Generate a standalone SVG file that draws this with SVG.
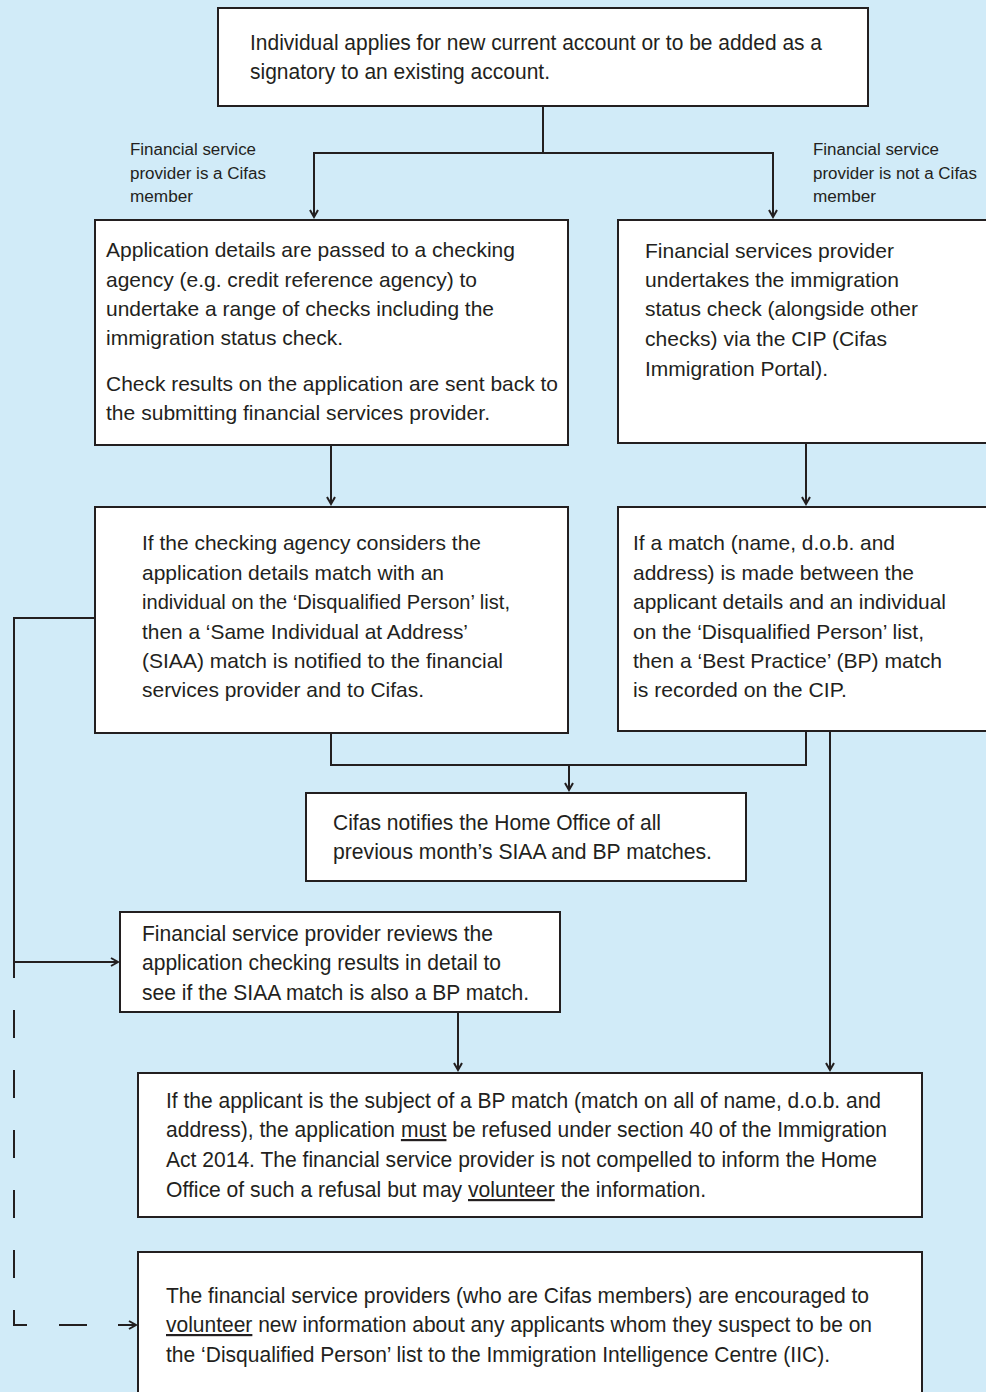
<svg xmlns="http://www.w3.org/2000/svg" width="986" height="1392" viewBox="0 0 986 1392">
<defs>
<style>
.bg{fill:#d1ebf8}
.box{fill:#ffffff;stroke:#231f20;stroke-width:2}
.ln{fill:none;stroke:#231f20;stroke-width:2}
.dash{fill:none;stroke:#231f20;stroke-width:2;stroke-dasharray:28 32;stroke-dashoffset:12}
.t{font-family:"Liberation Sans",Arial,sans-serif;font-size:21px;fill:#231f20}
.n{font-family:"Liberation Sans",Arial,sans-serif;font-size:22px;fill:#231f20}
.s{font-family:"Liberation Sans",Arial,sans-serif;font-size:16px;fill:#231f20}
.u{text-decoration:underline}
</style>
<marker id="ah" markerUnits="userSpaceOnUse" markerWidth="12" markerHeight="12" viewBox="-9 -6 10 12" refX="0" refY="0" orient="auto">
<path d="M-7,-4 L0,0 L-7,4" fill="none" stroke="#231f20" stroke-width="2"/>
</marker>
</defs>
<rect class="bg" x="0" y="0" width="986" height="1392"/>

<g id="connectors">
<path class="ln" d="M543,106 V153"/>
<path class="ln" d="M543,153 H314 V217" marker-end="url(#ah)"/>
<path class="ln" d="M543,153 H773 V217" marker-end="url(#ah)"/>
<path class="ln" d="M331,445 V504" marker-end="url(#ah)"/>
<path class="ln" d="M806,443 V504" marker-end="url(#ah)"/>
<path class="ln" d="M331,733 V765 H806 V731"/>
<path class="ln" d="M569,765 V790" marker-end="url(#ah)"/>
<path class="ln" d="M830,731 V1070" marker-end="url(#ah)"/>
<path class="ln" d="M95,618 H14 V962 H118" marker-end="url(#ah)"/>
<path class="ln" d="M458,1012 V1070" marker-end="url(#ah)"/>
<path class="dash" d="M14,962 V1325 H120"/>
<path class="ln" d="M118,1325 H136" marker-end="url(#ah)"/>
</g>

<g id="label-member">
<text class="s" x="130" y="155" textLength="126" lengthAdjust="spacingAndGlyphs">Financial service</text>
<text class="s" x="130" y="179" textLength="136" lengthAdjust="spacingAndGlyphs">provider is a Cifas</text>
<text class="s" x="130" y="202" textLength="63" lengthAdjust="spacingAndGlyphs">member</text>
</g>
<g id="label-not-member">
<text class="s" x="813" y="155" textLength="126" lengthAdjust="spacingAndGlyphs">Financial service</text>
<text class="s" x="813" y="179" textLength="164" lengthAdjust="spacingAndGlyphs">provider is not a Cifas</text>
<text class="s" x="813" y="202" textLength="63" lengthAdjust="spacingAndGlyphs">member</text>
</g>

<g id="node-apply">
<rect class="box" x="218" y="8" width="650" height="98"/>
<text class="n" x="250" y="50" textLength="572" lengthAdjust="spacingAndGlyphs">Individual applies for new current account or to be added as a</text>
<text class="n" x="250" y="79" textLength="300" lengthAdjust="spacingAndGlyphs">signatory to an existing account.</text>
</g>

<g id="node-agency">
<rect class="box" x="95" y="220" width="473" height="225"/>
<text class="t" x="106" y="257" textLength="409" lengthAdjust="spacingAndGlyphs">Application details are passed to a checking</text>
<text class="t" x="106" y="287" textLength="371" lengthAdjust="spacingAndGlyphs">agency (e.g. credit reference agency) to</text>
<text class="t" x="106" y="316" textLength="388" lengthAdjust="spacingAndGlyphs">undertake a range of checks including the</text>
<text class="t" x="106" y="345" textLength="237" lengthAdjust="spacingAndGlyphs">immigration status check.</text>
<text class="t" x="106" y="391" textLength="452" lengthAdjust="spacingAndGlyphs">Check results on the application are sent back to</text>
<text class="t" x="106" y="420" textLength="384" lengthAdjust="spacingAndGlyphs">the submitting financial services provider.</text>
</g>

<g id="node-cip">
<rect class="box" x="618" y="220" width="380" height="223"/>
<text class="t" x="645" y="258" textLength="249" lengthAdjust="spacingAndGlyphs">Financial services provider</text>
<text class="t" x="645" y="287" textLength="254" lengthAdjust="spacingAndGlyphs">undertakes the immigration</text>
<text class="t" x="645" y="316" textLength="273" lengthAdjust="spacingAndGlyphs">status check (alongside other</text>
<text class="t" x="645" y="346" textLength="242" lengthAdjust="spacingAndGlyphs">checks) via the CIP (Cifas</text>
<text class="t" x="645" y="376" textLength="183" lengthAdjust="spacingAndGlyphs">Immigration Portal).</text>
</g>

<g id="node-siaa">
<rect class="box" x="95" y="507" width="473" height="226"/>
<text class="t" x="142" y="550" textLength="339" lengthAdjust="spacingAndGlyphs">If the checking agency considers the</text>
<text class="t" x="142" y="580" textLength="302" lengthAdjust="spacingAndGlyphs">application details match with an</text>
<text class="t" x="142" y="609" textLength="368" lengthAdjust="spacingAndGlyphs">individual on the ‘Disqualified Person’ list,</text>
<text class="t" x="142" y="639" textLength="326" lengthAdjust="spacingAndGlyphs">then a ‘Same Individual at Address’</text>
<text class="t" x="142" y="668" textLength="361" lengthAdjust="spacingAndGlyphs">(SIAA) match is notified to the financial</text>
<text class="t" x="142" y="697" textLength="282" lengthAdjust="spacingAndGlyphs">services provider and to Cifas.</text>
</g>

<g id="node-bp">
<rect class="box" x="618" y="507" width="380" height="224"/>
<text class="t" x="633" y="550" textLength="262" lengthAdjust="spacingAndGlyphs">If a match (name, d.o.b. and</text>
<text class="t" x="633" y="580" textLength="281" lengthAdjust="spacingAndGlyphs">address) is made between the</text>
<text class="t" x="633" y="609" textLength="313" lengthAdjust="spacingAndGlyphs">applicant details and an individual</text>
<text class="t" x="633" y="639" textLength="291" lengthAdjust="spacingAndGlyphs">on the ‘Disqualified Person’ list,</text>
<text class="t" x="633" y="668" textLength="309" lengthAdjust="spacingAndGlyphs">then a ‘Best Practice’ (BP) match</text>
<text class="t" x="633" y="697" textLength="214" lengthAdjust="spacingAndGlyphs">is recorded on the CIP.</text>
</g>

<g id="node-homeoffice">
<rect class="box" x="306" y="793" width="440" height="88"/>
<text class="n" x="333" y="830" textLength="328" lengthAdjust="spacingAndGlyphs">Cifas notifies the Home Office of all</text>
<text class="n" x="333" y="859" textLength="379" lengthAdjust="spacingAndGlyphs">previous month’s SIAA and BP matches.</text>
</g>

<g id="node-review">
<rect class="box" x="120" y="912" width="440" height="100"/>
<text class="n" x="142" y="941" textLength="351" lengthAdjust="spacingAndGlyphs">Financial service provider reviews the</text>
<text class="n" x="142" y="970" textLength="359" lengthAdjust="spacingAndGlyphs">application checking results in detail to</text>
<text class="n" x="142" y="1000" textLength="387" lengthAdjust="spacingAndGlyphs">see if the SIAA match is also a BP match.</text>
</g>

<g id="node-refuse">
<rect class="box" x="138" y="1073" width="784" height="144"/>
<text class="n" x="166" y="1108" textLength="715" lengthAdjust="spacingAndGlyphs">If the applicant is the subject of a BP match (match on all of name, d.o.b. and</text>
<text class="n" x="166" y="1137" textLength="721" lengthAdjust="spacingAndGlyphs">address), the application <tspan class="u">must</tspan> be refused under section 40 of the Immigration</text>
<text class="n" x="166" y="1167" textLength="711" lengthAdjust="spacingAndGlyphs">Act 2014. The financial service provider is not compelled to inform the Home</text>
<text class="n" x="166" y="1197" textLength="540" lengthAdjust="spacingAndGlyphs">Office of such a refusal but may <tspan class="u">volunteer</tspan> the information.</text>
</g>

<g id="node-volunteer">
<rect class="box" x="138" y="1252" width="784" height="160"/>
<text class="n" x="166" y="1303" textLength="703" lengthAdjust="spacingAndGlyphs">The financial service providers (who are Cifas members) are encouraged to</text>
<text class="n" x="166" y="1332" textLength="706" lengthAdjust="spacingAndGlyphs"><tspan class="u">volunteer</tspan> new information about any applicants whom they suspect to be on</text>
<text class="n" x="166" y="1362" textLength="664" lengthAdjust="spacingAndGlyphs">the ‘Disqualified Person’ list to the Immigration Intelligence Centre (IIC).</text>
</g>
</svg>
